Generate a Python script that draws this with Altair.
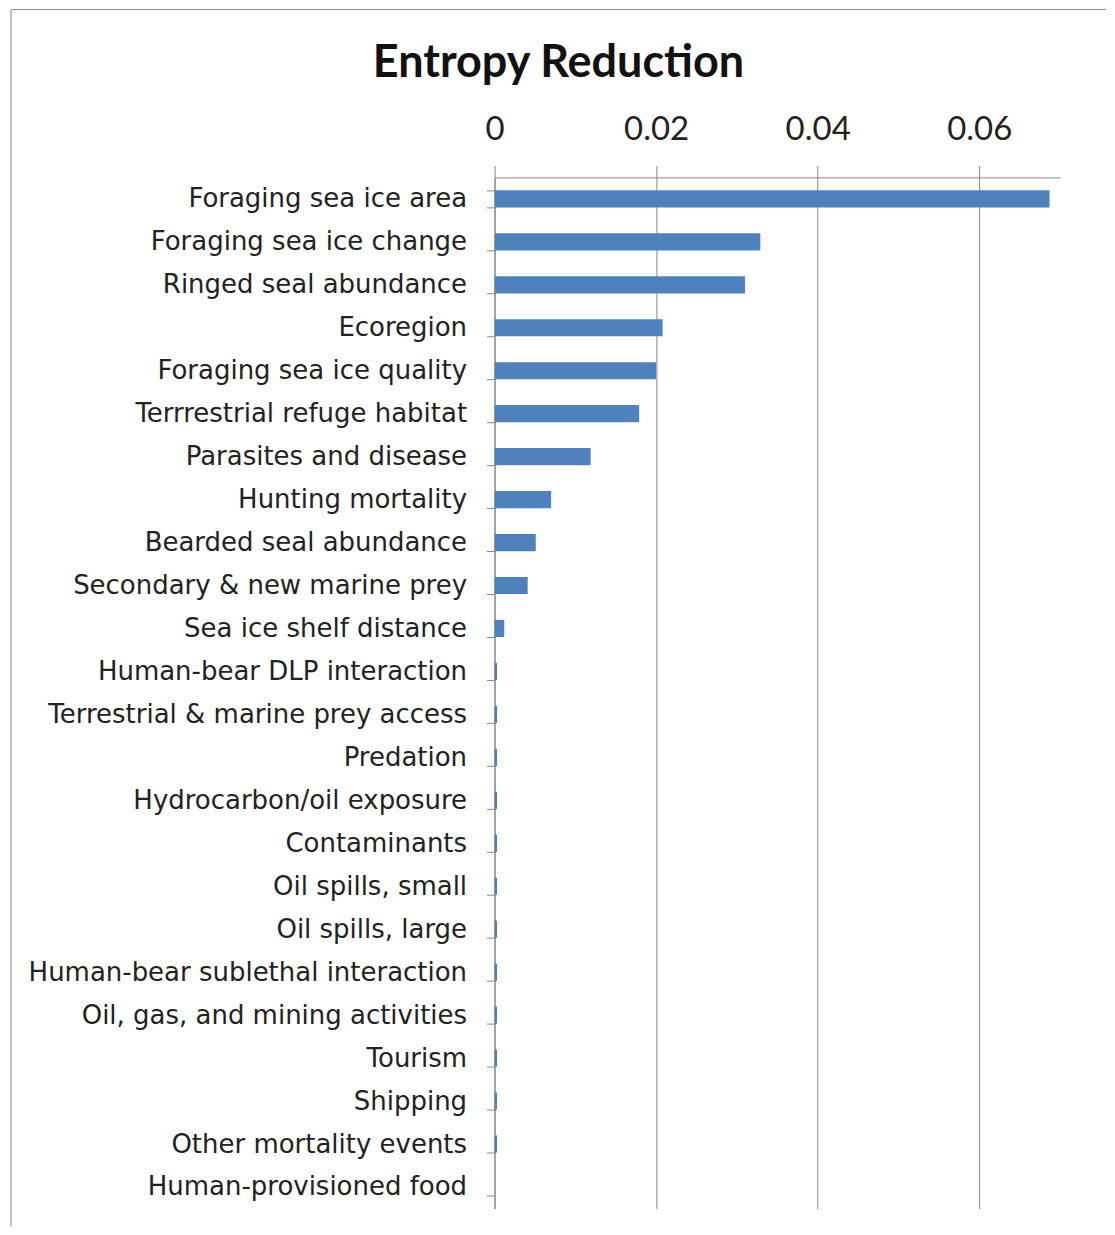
import altair as alt
import pandas as pd

factors = [
    "Foraging sea ice area",
    "Foraging sea ice change",
    "Ringed seal abundance",
    "Ecoregion",
    "Foraging sea ice quality",
    "Terrrestrial refuge habitat",
    "Parasites and disease",
    "Hunting mortality",
    "Bearded seal abundance",
    "Secondary & new marine prey",
    "Sea ice shelf distance",
    "Human-bear DLP interaction",
    "Terrestrial & marine prey access",
    "Predation",
    "Hydrocarbon/oil exposure",
    "Contaminants",
    "Oil spills, small",
    "Oil spills, large",
    "Human-bear sublethal interaction",
    "Oil, gas, and mining activities",
    "Tourism",
    "Shipping",
    "Other mortality events",
    "Human-provisioned food",
]
values = [
    0.0687, 0.0329, 0.0310, 0.0208, 0.0200, 0.0179, 0.0119, 0.0070,
    0.0051, 0.0041, 0.0012, 0.0003, 0.0003, 0.0003, 0.0003, 0.0003,
    0.0003, 0.0003, 0.0003, 0.0003, 0.0003, 0.0003, 0.0003, 0.0,
]
x_ticks = [0, 0.02, 0.04, 0.06]

df = pd.DataFrame({"factor": factors, "value": values})
frame_df = pd.DataFrame({"k": [0]})

GRAY = "#868686"
TXT = "#222222"

bars = alt.Chart(df).mark_bar(color="#4F81BD").encode(
    x=alt.X(
        "value:Q",
        scale=alt.Scale(domain=[0, 0.07], nice=False, zero=True),
        axis=alt.Axis(
            orient="top", values=x_ticks, format="~g", title=None,
            grid=True, gridColor=GRAY, gridWidth=1,
            domainColor=GRAY, tickColor=GRAY, tickSize=12,
            labelFontSize=33, labelPadding=19, labelFont="Lato",
            labelColor=TXT, labelFlush=False,
        ),
    ),
    y=alt.Y(
        "factor:N", sort=factors,
        scale=alt.Scale(paddingInner=0.6, paddingOuter=0.3),
        axis=alt.Axis(
            title=None, tickBand="extent", tickSize=8, tickColor=GRAY,
            domainColor=GRAY, labelFontSize=26, labelPadding=20,
            labelFont="DejaVu Sans", labelColor=TXT, labelLimit=0,
        ),
    ),
)

frame_left = alt.Chart(frame_df).mark_rule(color=GRAY, strokeWidth=1).encode(
    x=alt.value(-484), y=alt.value(-168), y2=alt.value(1050)
)
frame_top = alt.Chart(frame_df).mark_rule(color=GRAY, strokeWidth=1).encode(
    x=alt.value(-484), x2=alt.value(612), y=alt.value(-168)
)

chart = alt.layer(bars, frame_left, frame_top).properties(
    width=566,
    height=1032,
    padding={"left": 2, "top": 0, "right": 0, "bottom": 0},
    title=alt.TitleParams(
        "Entropy Reduction", fontSize=45, font="Lato", fontWeight="bold",
        color="#111111", offset=-77, anchor="middle", frame="bounds",
    ),
).configure_view(strokeWidth=0)

chart.save("out.html", embed_options={"renderer": "svg", "actions": False})
